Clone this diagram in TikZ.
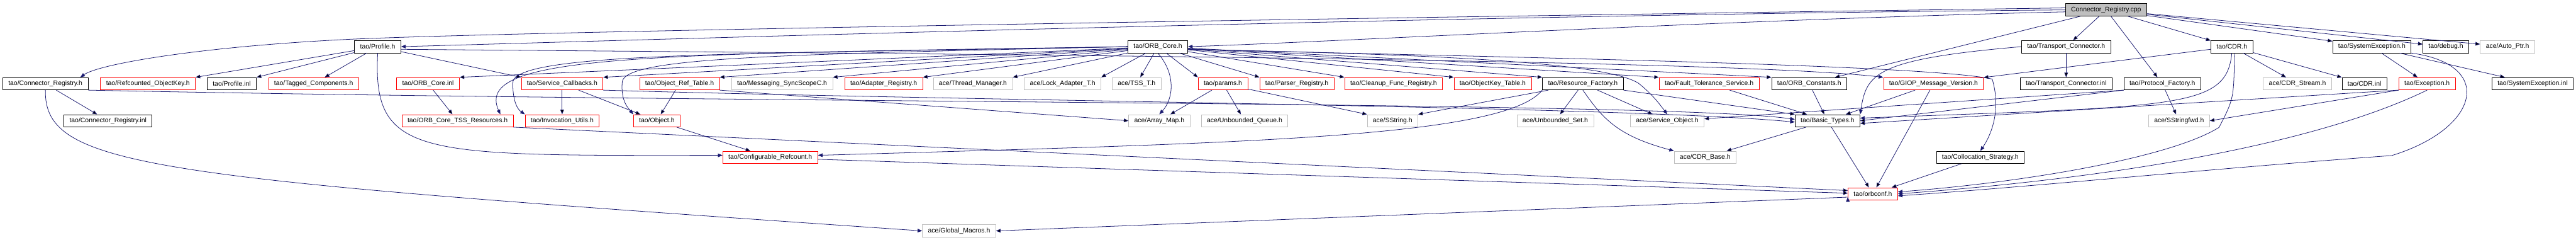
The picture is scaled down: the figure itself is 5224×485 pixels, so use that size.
\documentclass[tikz,border=0pt]{standalone}
\usepackage{fontspec}
\setmainfont{Liberation Sans}
\usepackage{tikz}
\usetikzlibrary{arrows.meta}

\definecolor{edgeblue}{RGB}{25,25,112}
\definecolor{boxgray}{RGB}{191,191,191}

\begin{document}
\begin{tikzpicture}[x=0.75pt,y=-0.75pt,>={Triangle[length=7pt,width=5.5pt]},
    file/.style={draw=black,line width=0.75pt,minimum height=18.75pt,inner xsep=8.5pt,inner ysep=0pt,font=\fontsize{10}{12}\selectfont},
    redfile/.style={file,draw=red},
    sysfile/.style={file,draw=boxgray},
    srcfile/.style={file,fill=boxgray},
    dep/.style={->,draw=edgeblue,line width=0.75pt}]
       \path[use as bounding box,fill=white] (0,0) rectangle (5224,485);

       \node[srcfile] (cpp) at (4271,20) {Connector\_Registry.cpp};

       \node[file] (profh) at (766,94.5) {tao/Profile.h};
       \node[file] (orbcoreh) at (2348,94.5) {tao/ORB\_Core.h};
       \node[file] (tch) at (4190,94.5) {tao/Transport\_Connector.h};
       \node[file] (cdrh) at (4526,94.5) {tao/CDR.h};
       \node[file] (sysexh) at (4810,94.5) {tao/SystemException.h};
       \node[file] (debugh) at (4960,94.5) {tao/debug.h};
       \node[sysfile] (autoptr) at (5085,94.5) {ace/Auto\_Ptr.h};

       \node[file] (crh) at (92,169.5) {tao/Connector\_Registry.h};
       \node[redfile] (refkey) at (300,169.5) {tao/Refcounted\_ObjectKey.h};
       \node[file] (profinl) at (470,169.5) {tao/Profile.inl};
       \node[redfile] (tagged) at (636,169.5) {tao/Tagged\_Components.h};
       \node[redfile] (orbcoreinl) at (868,169.5) {tao/ORB\_Core.inl};
       \node[redfile] (svccb) at (1140,169.5) {tao/Service\_Callbacks.h};
       \node[redfile] (objreftab) at (1378,169.5) {tao/Object\_Ref\_Table.h};
       \node[sysfile] (msgsync) at (1586,169.5) {tao/Messaging\_SyncScopeC.h};
       \node[redfile] (adapreg) at (1792,169.5) {tao/Adapter\_Registry.h};
       \node[sysfile] (thrmgr) at (1973,169.5) {ace/Thread\_Manager.h};
       \node[sysfile] (lockadap) at (2155,169.5) {ace/Lock\_Adapter\_T.h};
       \node[sysfile] (tsst) at (2305,169.5) {ace/TSS\_T.h};
       \node[redfile] (params) at (2480,169.5) {tao/params.h};
       \node[redfile] (parsreg) at (2630,169.5) {tao/Parser\_Registry.h};
       \node[redfile] (cleanup) at (2826,169.5) {tao/Cleanup\_Func\_Registry.h};
       \node[redfile] (okeytab) at (3027,169.5) {tao/ObjectKey\_Table.h};
       \node[file] (resfact) at (3210,169.5) {tao/Resource\_Factory.h};
       \node[redfile] (fts) at (3466,169.5) {tao/Fault\_Tolerance\_Service.h};
       \node[file] (orbconst) at (3669,169.5) {tao/ORB\_Constants.h};
       \node[redfile] (giop) at (3921,169.5) {tao/GIOP\_Message\_Version.h};
       \node[file] (tcinl) at (4190,169.5) {tao/Transport\_Connector.inl};
       \node[file] (pfh) at (4385,169.5) {tao/Protocol\_Factory.h};
       \node[sysfile] (cdrstream) at (4659,169.5) {ace/CDR\_Stream.h};
       \node[file] (cdrinl) at (4795,169.5) {tao/CDR.inl};
       \node[redfile] (exc) at (4922,169.5) {tao/Exception.h};
       \node[file] (sysexinl) at (5136,169.5) {tao/SystemException.inl};

       \node[file] (crinl) at (219,244.5) {tao/Connector\_Registry.inl};
       \node[redfile] (tssres) at (928,244.5) {tao/ORB\_Core\_TSS\_Resources.h};
       \node[redfile] (invutil) at (1140,244.5) {tao/Invocation\_Utils.h};
       \node[redfile] (object) at (1332,244.5) {tao/Object.h};
       \node[sysfile] (arraymap) at (2351,244.5) {ace/Array\_Map.h};
       \node[sysfile] (unbq) at (2524,244.5) {ace/Unbounded\_Queue.h};
       \node[sysfile] (sstring) at (2824,244.5) {ace/SString.h};
       \node[sysfile] (unbset) at (3154,244.5) {ace/Unbounded\_Set.h};
       \node[sysfile] (svcobj) at (3381,244.5) {ace/Service\_Object.h};
       \node[file] (basic) at (3706,244.5) {tao/Basic\_Types.h};
       \node[sysfile] (sstrfwd) at (4419,244.5) {ace/SStringfwd.h};

       \node[redfile] (confref) at (1562,318.5) {tao/Configurable\_Refcount.h};
       \node[sysfile] (cdrbase) at (3458,318.5) {ace/CDR\_Base.h};
       \node[file] (collstrat) at (4016,318.5) {tao/Collocation\_Strategy.h};
       \node[redfile] (orbconf) at (3798,392.5) {tao/orbconf.h};
       \node[sysfile] (globmac) at (1945,467.5) {ace/Global\_Macros.h};

       \path[dep]
       (cpp) edge (orbconst) edge (tch) edge (pfh) edge (cdrh)
             edge (sysexh) edge (debugh) edge (autoptr)
       (profh) edge (refkey.north east) edge (profinl.north east)
               edge (tagged) edge (svccb.north west)
       (orbcoreh) edge (orbcoreinl.north east) edge (svccb.north east)
                  edge (objreftab.north east) edge (msgsync.north east)
                  edge (adapreg.north east) edge (thrmgr.north east)
                  edge (lockadap.north east) edge (tsst)
                  edge (params.north west) edge (parsreg.north west)
                  edge (cleanup.north west) edge (okeytab.north west)
                  edge (resfact.north west) edge (fts.north west)
                  edge (orbconst.north west)
       (crh) edge (crinl)
       (orbcoreinl) edge (tssres)
       (svccb) edge (invutil) edge (object)
       (objreftab) edge (object)
       (objreftab.south east) edge (arraymap.west)
       (object) edge (confref)
       (params) edge (arraymap) edge (unbq) edge (sstring.north west)
       (resfact) edge (sstring.north east) edge (unbset) edge (svcobj)
       (resfact.south east) edge (basic.north west)
       (fts) edge (basic)
       (orbconst) edge (basic)
       (giop) edge (basic) edge (orbconf)
       (tch) edge (tcinl)
       (pfh) edge (sstrfwd)
       (pfh.south west) edge (basic.east) edge ([yshift=3pt]svcobj.east)
       (cdrh) edge (cdrstream) edge (cdrinl) edge (giop)
       (exc.south west) edge (sstrfwd.east) edge ([yshift=-4pt]basic.east)
       (sysexh) edge (exc) edge (sysexinl)
       (basic) edge (cdrbase) edge (orbconf)
       (collstrat) edge (orbconf)
       (tssres.south east) edge ([yshift=5pt]orbconf.west)
       ([yshift=-3pt]confref.east) edge ([yshift=1pt]orbconf.west)
       ([yshift=-5pt]orbconf.west) edge (globmac.east);

       \draw[dep] ([yshift=3pt]cpp.west) .. controls (2500,40) and (1000,65) .. (700,80)
                  .. controls (400,95) and (200,130) .. ([xshift=-12pt]crh.north east);
       \draw[dep] (cpp.west) .. controls (3000,30) and (1500,75) .. (profh.east);
       \draw[dep] ([yshift=-3pt]cpp.west) .. controls (3500,40) and (2700,85) .. (orbcoreh.east);
       \draw[dep] (profh.south) .. controls (755,320) and (850,315) .. ([yshift=3pt]confref.west);
       \draw[dep] ([yshift=-4pt]profh.east) .. controls (2000,110) and (3500,120) .. (giop.north west);
       \draw[dep] (orbcoreh.west) .. controls (1300,110) and (960,110) .. ([xshift=-20pt]tssres.north east);
       \draw[dep] (orbcoreh.west) .. controls (1500,110) and (1030,105) .. (1040,170)
                  .. controls (1040,215) and (1055,225) .. (invutil.north west);
       \draw[dep] (orbcoreh.west) .. controls (1600,110) and (1270,115) .. (1262,165)
                  .. controls (1258,205) and (1275,220) .. (object.north west);
       \draw[dep] (orbcoreh.south) .. controls (2385,150) and (2380,200) .. (arraymap.north);
       \draw[dep] ([yshift=-4pt]orbcoreh.east) .. controls (2900,110) and (3250,125) .. (3322,168)
                  .. controls (3350,190) and (3365,210) .. (svcobj.north);
       \draw[dep] ([yshift=-4pt]orbcoreh.east) .. controls (3000,115) and (3900,130) .. (4040,160)
                  .. controls (4058,220) and (4040,270) .. (collstrat.north);
       \draw[dep] (crh.south east) .. controls (1500,210) and (3400,205) .. ([yshift=2pt]basic.west);
       \draw[dep] (crh.south) .. controls (90,340) and (300,360) .. (globmac.west);
       \draw[dep] (svccb.south east) .. controls (2000,205) and (3300,215) .. ([yshift=-2pt]basic.west);
       \draw[dep] (resfact.south west) .. controls (3050,280) and (2500,290) .. ([yshift=3pt]confref.east);
       \draw[dep] (resfact.south) .. controls (3250,240) and (3280,275) .. (cdrbase.north west);
       \draw[dep] (tch.west) .. controls (3800,120) and (3785,150) .. (basic.north east);
       \draw[dep] (cdrh.south) .. controls (4515,220) and (4420,215) .. ([yshift=4pt]basic.east);
       \draw[dep] ([xshift=4pt]cdrh.south) .. controls (4530,200) .. (4500,258)
                  .. controls (4400,320) and (4100,370) .. ([yshift=3pt]orbconf.east);
       \draw[dep] (exc.south) .. controls (4700,290) and (4300,360) .. (orbconf.east);
       \draw[dep] (sysexh.south east) .. controls (5060,130) and (5030,260) .. (4850,315)
                  .. controls (4500,340) and (4100,380) .. ([yshift=-3pt]orbconf.east);
    \end{tikzpicture}
\end{document}
